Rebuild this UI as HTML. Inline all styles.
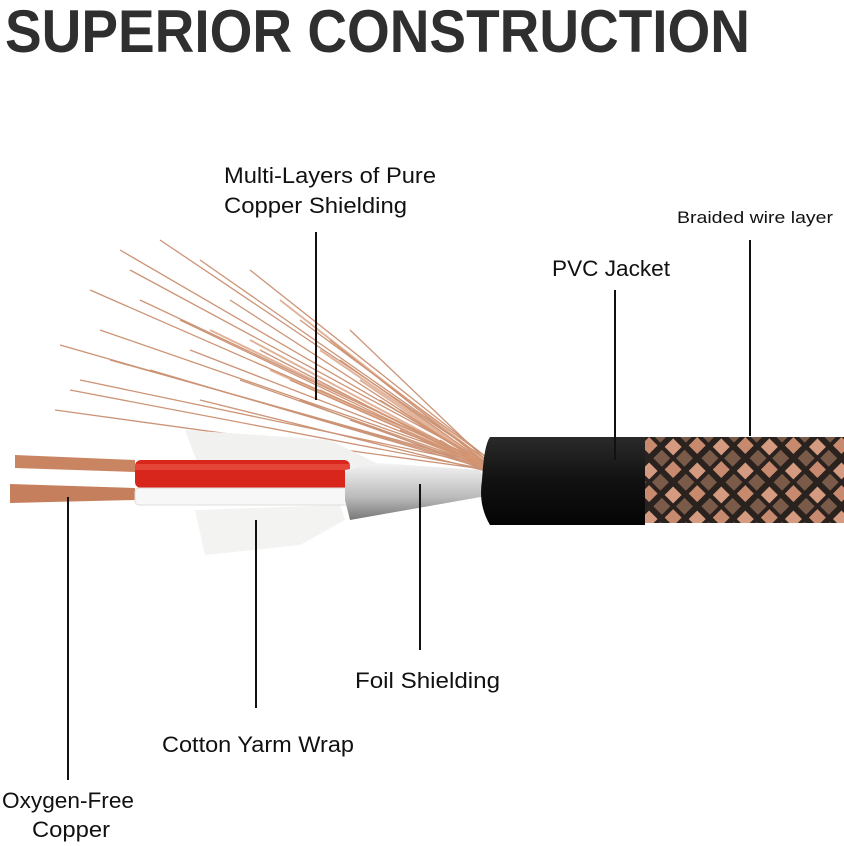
<!DOCTYPE html>
<html><head><style>
html,body{margin:0;padding:0;background:#fff;}
svg{display:block;}
text{font-family:"Liberation Sans",sans-serif;fill:#111;}
</style></head><body>
<svg width="844" height="846" viewBox="0 0 844 846" xmlns="http://www.w3.org/2000/svg">
<defs>
<pattern id="braid" width="34" height="34" patternUnits="userSpaceOnUse" patternTransform="rotate(45)">
<rect width="34" height="34" fill="#2a221e"/>
<rect x="4" y="4" width="12" height="12" fill="#d49b80"/>
<rect x="20" y="20" width="12" height="12" fill="#c88a6e"/>
<rect x="20" y="4" width="12" height="12" fill="#7a5a48"/>
<rect x="4" y="20" width="12" height="12" fill="#7a5a48"/>
</pattern>
<linearGradient id="jk" x1="0" y1="0" x2="0" y2="1">
<stop offset="0" stop-color="#2a2a2a"/><stop offset="0.5" stop-color="#111"/><stop offset="1" stop-color="#050505"/>
</linearGradient>
<linearGradient id="foil" x1="0" y1="0" x2="0" y2="1">
<stop offset="0" stop-color="#f4f4f4"/><stop offset="0.6" stop-color="#bbb"/><stop offset="1" stop-color="#777"/>
</linearGradient>
</defs>
<text x="5" y="52" font-size="60" font-weight="bold" style="fill:#2f2f2f" textLength="745" lengthAdjust="spacingAndGlyphs">SUPERIOR CONSTRUCTION</text>

<g stroke="#c07a55" stroke-width="1.3" opacity="0.8" fill="none">
<path d="M490 465 L120 250"/><path d="M490 465 L90 290"/><path d="M490 468 L60 345"/>
<path d="M490 470 L70 390"/><path d="M490 470 L55 410"/><path d="M490 462 L160 240"/>
<path d="M490 462 L200 260"/><path d="M490 465 L140 300"/><path d="M490 465 L100 330"/>
<path d="M490 468 L180 320"/><path d="M490 468 L230 300"/><path d="M490 470 L260 350"/>
<path d="M490 470 L150 370"/><path d="M490 472 L300 400"/><path d="M490 472 L200 400"/>
<path d="M490 460 L250 270"/><path d="M490 460 L300 320"/><path d="M490 466 L340 360"/>
<path d="M490 468 L380 400"/><path d="M490 470 L400 430"/><path d="M490 470 L350 420"/>
<path d="M490 466 L110 360"/><path d="M490 466 L80 380"/><path d="M490 464 L130 270"/>
<path d="M490 466 L190 350"/><path d="M490 468 L240 380"/><path d="M490 468 L290 380"/>
<path d="M490 466 L330 340"/><path d="M490 464 L350 330"/><path d="M490 470 L440 440"/>
</g>
<g stroke="#d59470" stroke-width="2" opacity="0.7" fill="none">
<path d="M490 466 L210 330"/><path d="M490 468 L270 370"/><path d="M490 470 L320 390"/>
<path d="M490 468 L360 380"/><path d="M490 464 L280 300"/><path d="M490 470 L420 440"/>
<path d="M490 466 L320 350"/><path d="M490 468 L400 410"/><path d="M490 468 L250 340"/>
</g>

<path d="M185 430 L330 440 L380 465 L340 470 L200 470 Z" fill="#f1f1ef"/>
<path d="M195 510 L340 505 L345 520 L300 545 L205 555 Z" fill="#f3f3f1"/>

<path d="M15 455 L135 460 L135 472 L15 468 Z" fill="#c98462"/>
<path d="M10 484 L135 488 L135 500 L10 503 Z" fill="#c57f5d"/>
<rect x="135" y="460" width="215" height="28" rx="6" fill="#d8261c"/>
<rect x="135" y="464" width="215" height="6" fill="#ee5a4a" opacity="0.6"/>
<rect x="135" y="488" width="215" height="17" rx="4" fill="#f7f7f7" stroke="#ddd"/>
<path d="M345 470 L380 463 L480 470 L492 495 L350 520 L345 500 Z" fill="url(#foil)"/>
<rect x="640" y="437" width="204" height="86" fill="url(#braid)"/>
<path d="M490 437 L645 437 L645 525 L490 525 Q478 505 482 480 Q484 445 490 437 Z" fill="url(#jk)"/>

<g stroke="#111" stroke-width="2">
<line x1="316" y1="232" x2="316" y2="400"/>
<line x1="615" y1="290" x2="615" y2="460"/>
<line x1="750" y1="240" x2="750" y2="436"/>
<line x1="68" y1="497" x2="68" y2="780"/>
<line x1="256" y1="520" x2="256" y2="708"/>
<line x1="420" y1="484" x2="420" y2="650"/>
</g>

<text x="224" y="183" font-size="22" textLength="212" lengthAdjust="spacingAndGlyphs">Multi-Layers of Pure</text>
<text x="224" y="213" font-size="22" textLength="183" lengthAdjust="spacingAndGlyphs">Copper Shielding</text>
<text x="552" y="276" font-size="22" textLength="118" lengthAdjust="spacingAndGlyphs">PVC Jacket</text>
<text x="677" y="223" font-size="17" textLength="156" lengthAdjust="spacingAndGlyphs">Braided wire layer</text>
<text x="355" y="688" font-size="22" textLength="145" lengthAdjust="spacingAndGlyphs">Foil Shielding</text>
<text x="162" y="752" font-size="22" textLength="192" lengthAdjust="spacingAndGlyphs">Cotton Yarm Wrap</text>
<text x="2" y="808" font-size="22" textLength="132" lengthAdjust="spacingAndGlyphs">Oxygen-Free</text>
<text x="32" y="837" font-size="22" textLength="78" lengthAdjust="spacingAndGlyphs">Copper</text>
</svg>
</body></html>
